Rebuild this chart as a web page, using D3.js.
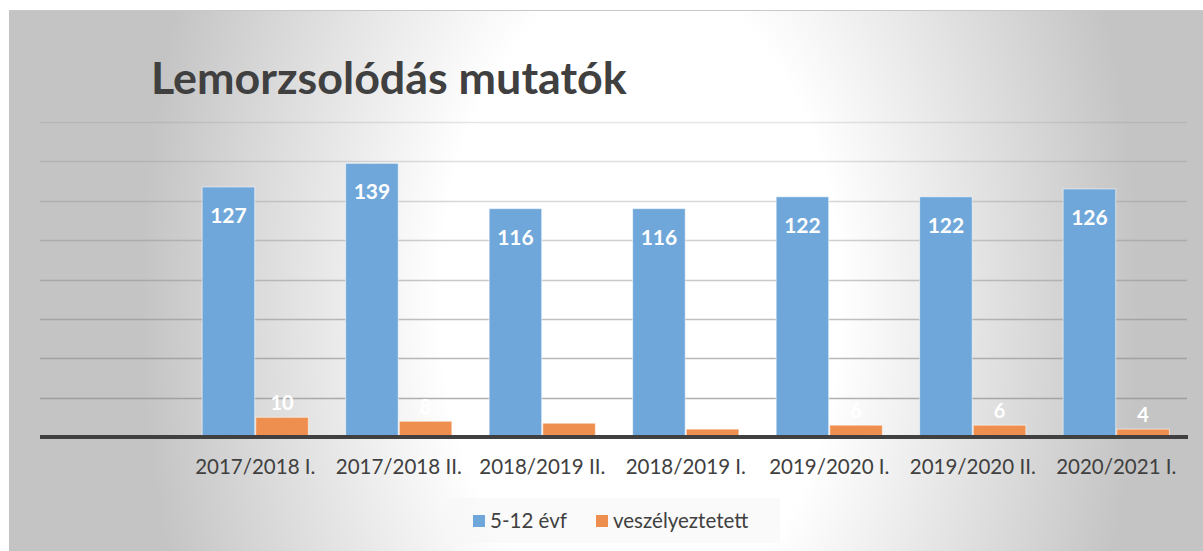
<!DOCTYPE html>
<html>
<head>
<meta charset="utf-8">
<script src="https://cdn.jsdelivr.net/npm/d3@7"></script>
<style>
  body { margin: 0; background: #fff; }
  text { font-family: Lato, "Open Sans", sans-serif; }
</style>
</head>
<body>
<svg width="1203" height="551"></svg>
<script>
const categories = ["", "2017/2018 I.", "2017/2018 II.", "2018/2019 II.", "2018/2019 I.",
  "2019/2020 I.", "2019/2020 II.", "2020/2021 I."];
const seriesNames = ["5-12 évf", "veszélyeztetett"];
const evf = [null, 127, 139, 116, 116, 122, 122, 126];
const veszely = [null, 10, 8, 7, 4, 6, 6, 4];
const yTicks = [0, 20, 40, 60, 80, 100, 120, 140, 160];
const colors = ["#6fa7da", "#ee8e4f"];

function main() {
  var svg = d3.select("svg"),
    width = +svg.attr("width"),
    height = +svg.attr("height");

  // background panel with a tall elliptical light spot
  var defs = svg.append("defs");
  var grad = defs.append("radialGradient")
    .attr("id", "bg")
    .attr("gradientUnits", "userSpaceOnUse")
    .attr("cx", 0).attr("cy", 0).attr("r", 500)
    .attr("gradientTransform", "translate(640,300) scale(1,1.6)");
  grad.append("stop").attr("offset", "0%").attr("stop-color", "#ffffff");
  grad.append("stop").attr("offset", "40%").attr("stop-color", "#ffffff");
  grad.append("stop").attr("offset", "100%").attr("stop-color", "#c4c4c4");

  svg.append("rect")
    .attr("x", 9).attr("y", 10)
    .attr("width", width - 9).attr("height", height - 10)
    .attr("fill", "url(#bg)");
  svg.append("line")
    .attr("x1", 9).attr("x2", width)
    .attr("y1", 10.5).attr("y2", 10.5)
    .attr("stroke", "#c8c8c8");

  var x0 = d3.scaleBand()
    .domain(categories)
    .range([40, 1188])
    .paddingInner(0.26)
    .paddingOuter(0.13);

  var x1 = d3.scaleBand()
    .domain(seriesNames)
    .range([0, x0.bandwidth()])
    .paddingInner(0.02);

  var y = d3.scaleLinear().domain([0, 160]).range([437, 122]);

  // gridlines
  svg.append("g")
    .selectAll("line")
    .data(yTicks.slice(1))
    .enter()
    .append("line")
    .attr("x1", 40).attr("x2", 1187)
    .attr("y1", (d) => Math.round(y(d)) + 0.5)
    .attr("y2", (d) => Math.round(y(d)) + 0.5)
    .attr("stroke", "#8c8c8c")
    .attr("stroke-opacity", (d) => 0.75 - d / 300)
    .attr("stroke-width", 1.3);

  var rows = categories.map((c, i) => ({ cat: c, vals: [evf[i], veszely[i]] }));

  var groups = svg.append("g")
    .selectAll("g")
    .data(rows.filter((r) => r.vals[0] != null))
    .enter()
    .append("g")
    .attr("transform", (d) => "translate(" + x0(d.cat) + ",0)");

  groups.selectAll("rect")
    .data((d) => d.vals.map((v, j) => ({ key: seriesNames[j], v: v, j: j })))
    .enter()
    .append("rect")
    .attr("x", (d) => x1(d.key))
    .attr("width", x1.bandwidth())
    .attr("y", (d) => y(d.v))
    .attr("height", (d) => y(0) - y(d.v))
    .attr("fill", (d) => colors[d.j])
    .attr("stroke", "rgba(255,255,255,0.55)")
    .attr("stroke-width", 1);

  // value labels (white, so some vanish on the light background)
  groups.selectAll("text")
    .data((d) => d.vals.map((v, j) => ({ key: seriesNames[j], v: v, j: j })))
    .enter()
    .append("text")
    .attr("x", (d) => x1(d.key) + x1.bandwidth() / 2)
    .attr("y", (d) => (d.j === 0 ? y(d.v) + 36 : y(d.v) - 7))
    .attr("text-anchor", "middle")
    .attr("fill", "#fff")
    .attr("font-weight", "bold")
    .attr("font-size", (d) => (d.j === 0 ? "21px" : "20px"))
    .text((d) => d.v);

  // x axis line
  svg.append("line")
    .attr("x1", 40).attr("x2", 1188)
    .attr("y1", y(0)).attr("y2", y(0))
    .attr("stroke", "#404040")
    .attr("stroke-width", 4);

  // category labels
  svg.append("g")
    .selectAll("text")
    .data(categories)
    .enter()
    .append("text")
    .attr("x", (d) => x0(d) + x0.bandwidth() / 2)
    .attr("y", 474)
    .attr("text-anchor", "middle")
    .attr("font-size", "20.5px")
    .attr("fill", "#404040")
    .text((d) => d);

  // title
  var title = svg.append("text")
    .attr("x", 151)
    .attr("y", 94)
    .attr("font-size", "36px")
    .attr("font-weight", "bold")
    .attr("fill", "#404040")
    .text("Lemorzsolódás mutatók");
  var tw = title.node().getComputedTextLength();
  title.attr("font-size", (36 * 476 / tw).toFixed(1) + "px");

  // legend
  var legend = svg.append("g");
  legend.append("rect")
    .attr("x", 445).attr("y", 498).attr("width", 335).attr("height", 45)
    .attr("fill", "#f7f7f7").attr("fill-opacity", 0.6);
  var lx = [473, 596];
  seriesNames.forEach((name, i) => {
    legend.append("rect")
      .attr("x", lx[i]).attr("y", 515)
      .attr("width", 12).attr("height", 12)
      .attr("fill", colors[i]);
    legend.append("text")
      .attr("x", lx[i] + 17).attr("y", 528)
      .attr("font-size", "20.5px")
      .attr("fill", "#404040")
      .text(name);
  });
}

main();
</script>
</body>
</html>
